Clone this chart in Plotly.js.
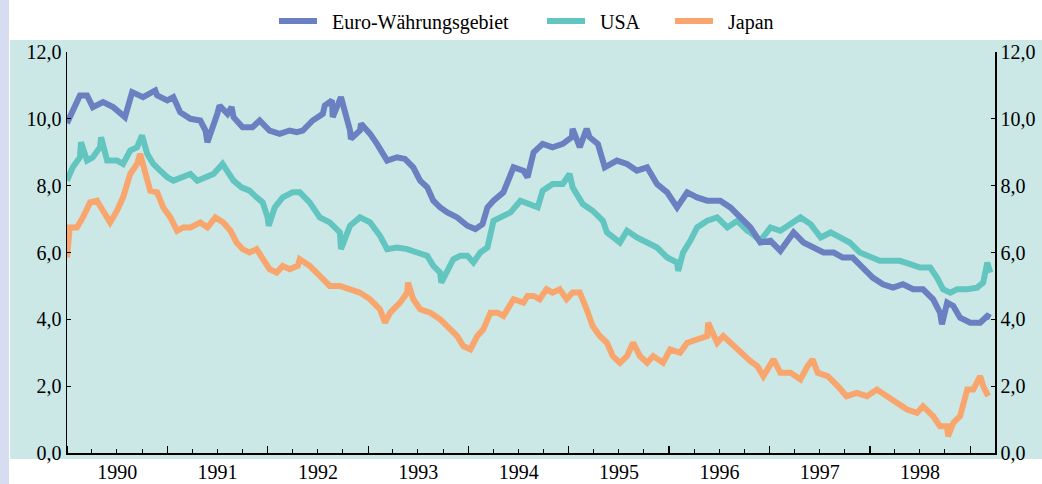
<!DOCTYPE html>
<html>
<head>
<meta charset="utf-8">
<script src="https://cdn.plot.ly/plotly-3.0.1.min.js"></script>
<style>
html,body{margin:0;padding:0;background:#fff;}
#chart{width:1042px;height:484px;}
</style>
</head>
<body>
<div id="chart"></div>
<script>
// Decimal-year positions and values (percent)
const euroYears = [1990.00,1990.06,1990.13,1990.20,1990.26,1990.36,1990.46,1990.58,1990.65,1990.76,1990.88,1990.90,1991.00,1991.06,1991.13,1991.23,1991.33,1991.38,1991.40,1991.50,1991.52,1991.60,1991.64,1991.66,1991.75,1991.85,1991.92,1992.02,1992.12,1992.22,1992.29,1992.35,1992.45,1992.55,1992.57,1992.64,1992.65,1992.73,1992.75,1992.82,1992.83,1992.92,1992.93,1993.02,1993.09,1993.19,1993.29,1993.37,1993.45,1993.52,1993.59,1993.65,1993.72,1993.79,1993.89,1993.99,1994.07,1994.14,1994.19,1994.25,1994.35,1994.45,1994.55,1994.59,1994.65,1994.74,1994.84,1994.94,1995.03,1995.04,1995.11,1995.18,1995.21,1995.29,1995.36,1995.48,1995.58,1995.68,1995.78,1995.88,1995.98,1996.08,1996.18,1996.28,1996.38,1996.51,1996.61,1996.71,1996.81,1996.91,1997.01,1997.11,1997.24,1997.34,1997.44,1997.54,1997.64,1997.73,1997.83,1997.93,1998.03,1998.13,1998.23,1998.33,1998.43,1998.53,1998.63,1998.70,1998.72,1998.77,1998.83,1998.90,1999.00,1999.10,1999.17,1999.20];
const euroValues = [9.87,10.2,10.7,10.7,10.35,10.5,10.35,10.05,10.8,10.65,10.85,10.7,10.55,10.65,10.2,10.0,9.95,9.65,9.3,10.15,10.4,10.15,10.35,10.05,9.75,9.75,9.95,9.65,9.55,9.65,9.6,9.65,9.95,10.15,10.4,10.55,10.05,10.65,10.45,9.65,9.4,9.65,9.85,9.55,9.25,8.75,8.85,8.8,8.55,8.15,7.95,7.55,7.35,7.2,7.05,6.8,6.7,6.85,7.35,7.55,7.8,8.55,8.45,8.25,9.0,9.25,9.15,9.25,9.45,9.7,9.15,9.7,9.45,9.25,8.55,8.75,8.65,8.45,8.55,8.05,7.8,7.35,7.8,7.65,7.55,7.55,7.35,7.05,6.75,6.3,6.35,6.05,6.6,6.3,6.15,6.0,6.0,5.85,5.85,5.55,5.25,5.05,4.95,5.05,4.9,4.9,4.6,4.2,3.85,4.5,4.4,4.05,3.9,3.9,4.1,4.05];

const usaYears = [1990.00,1990.06,1990.13,1990.14,1990.20,1990.26,1990.33,1990.34,1990.40,1990.50,1990.56,1990.63,1990.70,1990.75,1990.80,1990.86,1990.93,1991.00,1991.06,1991.16,1991.23,1991.30,1991.40,1991.46,1991.55,1991.60,1991.66,1991.74,1991.82,1991.89,1991.95,1992.00,1992.01,1992.07,1992.15,1992.25,1992.32,1992.42,1992.52,1992.62,1992.72,1992.73,1992.82,1992.92,1993.02,1993.12,1993.19,1993.29,1993.39,1993.49,1993.59,1993.65,1993.72,1993.73,1993.79,1993.85,1993.92,1993.99,1994.05,1994.12,1994.19,1994.25,1994.32,1994.42,1994.52,1994.62,1994.69,1994.74,1994.84,1994.94,1995.01,1995.04,1995.14,1995.24,1995.34,1995.38,1995.44,1995.51,1995.58,1995.68,1995.78,1995.88,1995.98,1996.08,1996.09,1996.14,1996.21,1996.28,1996.38,1996.48,1996.58,1996.68,1996.78,1996.81,1996.91,1997.01,1997.11,1997.21,1997.31,1997.41,1997.51,1997.61,1997.71,1997.80,1997.90,1998.00,1998.10,1998.20,1998.30,1998.40,1998.50,1998.60,1998.67,1998.73,1998.80,1998.87,1998.97,1999.07,1999.13,1999.17,1999.20];
const usaValues = [8.15,8.55,8.85,9.3,8.75,8.85,9.15,9.45,8.75,8.75,8.65,9.05,9.15,9.5,8.95,8.65,8.45,8.25,8.15,8.25,8.35,8.15,8.25,8.35,8.65,8.45,8.15,7.95,7.85,7.65,7.5,7.05,6.8,7.35,7.65,7.8,7.8,7.5,7.05,6.9,6.6,6.1,6.8,7.05,6.9,6.5,6.1,6.15,6.1,6.0,5.9,5.6,5.4,5.1,5.5,5.8,5.9,5.9,5.7,6.0,6.15,6.95,7.05,7.2,7.55,7.45,7.35,7.85,8.05,8.05,8.35,7.95,7.45,7.25,6.95,6.6,6.45,6.3,6.65,6.45,6.3,6.15,5.85,5.7,5.45,6.0,6.35,6.75,6.95,7.05,6.75,6.95,6.65,6.6,6.35,6.75,6.65,6.85,7.05,6.85,6.45,6.6,6.45,6.3,6.0,5.85,5.75,5.75,5.75,5.65,5.55,5.55,5.25,4.9,4.8,4.9,4.9,4.95,5.1,5.7,5.4];

const japanYears = [1990.00,1990.03,1990.10,1990.16,1990.23,1990.30,1990.36,1990.43,1990.50,1990.56,1990.63,1990.70,1990.73,1990.78,1990.83,1990.90,1990.96,1991.03,1991.10,1991.16,1991.23,1991.33,1991.40,1991.48,1991.56,1991.63,1991.69,1991.75,1991.82,1991.89,1991.95,1992.02,1992.09,1992.15,1992.22,1992.30,1992.32,1992.42,1992.52,1992.62,1992.72,1992.82,1992.92,1993.02,1993.12,1993.17,1993.22,1993.32,1993.39,1993.40,1993.45,1993.52,1993.62,1993.72,1993.82,1993.89,1993.95,1994.02,1994.09,1994.15,1994.22,1994.29,1994.35,1994.45,1994.55,1994.59,1994.65,1994.71,1994.78,1994.84,1994.91,1994.98,1995.04,1995.11,1995.18,1995.24,1995.31,1995.38,1995.44,1995.51,1995.58,1995.64,1995.71,1995.78,1995.84,1995.94,1996.01,1996.11,1996.18,1996.28,1996.38,1996.39,1996.48,1996.54,1996.61,1996.71,1996.81,1996.88,1996.94,1997.04,1997.11,1997.21,1997.31,1997.38,1997.43,1997.48,1997.58,1997.68,1997.77,1997.87,1997.97,1998.07,1998.17,1998.27,1998.37,1998.47,1998.53,1998.63,1998.70,1998.77,1998.78,1998.83,1998.90,1998.97,1999.03,1999.10,1999.13,1999.18];
const japanValues = [5.85,6.75,6.75,7.05,7.5,7.55,7.25,6.9,7.25,7.65,8.35,8.65,8.95,8.35,7.85,7.8,7.35,7.05,6.65,6.75,6.75,6.9,6.75,7.05,6.9,6.65,6.3,6.1,6.0,6.1,5.8,5.5,5.4,5.6,5.5,5.6,5.8,5.6,5.3,5.0,5.0,4.9,4.8,4.6,4.3,3.9,4.2,4.5,4.8,5.1,4.6,4.3,4.2,4.0,3.7,3.5,3.2,3.1,3.5,3.7,4.2,4.2,4.1,4.6,4.5,4.7,4.7,4.6,4.9,4.8,4.9,4.6,4.8,4.8,4.3,3.8,3.5,3.3,2.9,2.7,2.9,3.3,2.9,2.7,2.9,2.7,3.1,3.0,3.3,3.4,3.5,3.9,3.3,3.5,3.3,3.0,2.75,2.6,2.3,2.8,2.4,2.4,2.2,2.6,2.8,2.4,2.3,2.0,1.7,1.8,1.7,1.9,1.7,1.5,1.3,1.2,1.4,1.1,0.8,0.8,0.5,0.9,1.1,1.9,1.9,2.3,2.0,1.7];

const seriesNames = ['Euro-Währungsgebiet', 'USA', 'Japan'];
const yTickValues = [0, 2, 4, 6, 8, 10, 12];

function toDate(y) {
  const ms = Date.UTC(1990, 0, 1) + (y - 1990) * 365.25 * 86400000;
  return new Date(ms).toISOString().slice(0, 10);
}

const FONT = 'Liberation Serif';
const colors = { euro: '#6b80c0', usa: '#63c5bf', japan: '#f8a66e' };
const GAP = '\u00a0\u00a0';

const data = [
  { x: usaYears.map(toDate), y: usaValues, name: GAP + seriesNames[1], type: 'scatter', mode: 'lines',
    line: { color: colors.usa, width: 6 }, legend: 'legend2', yaxis: 'y' },
  { x: japanYears.map(toDate), y: japanValues, name: GAP + seriesNames[2], type: 'scatter', mode: 'lines',
    line: { color: colors.japan, width: 6 }, legend: 'legend3', yaxis: 'y' },
  { x: euroYears.map(toDate), y: euroValues, name: GAP + seriesNames[0], type: 'scatter', mode: 'lines',
    line: { color: colors.euro, width: 6 }, legend: 'legend', yaxis: 'y2' }
];

const yCommon = {
  range: [0, 12], fixedrange: true, tickvals: yTickValues, tickformat: '.1f',
  ticks: 'inside', ticklen: 4, tickwidth: 1.2, tickcolor: '#000',
  showline: true, linecolor: '#000', linewidth: 1.5,
  showgrid: false, zeroline: false,
  tickfont: { family: FONT, size: 20, color: '#000' }
};

function legendAt(px) {
  return {
    orientation: 'h', x: (px - 67) / 928, xanchor: 'left',
    yref: 'container', y: 1 - 21 / 484, yanchor: 'middle',
    font: { family: FONT, size: 20, color: '#000' }, bgcolor: 'rgba(0,0,0,0)',
    borderwidth: 0, itemwidth: 38
  };
}

const layout = {
  width: 1042, height: 484,
  margin: { l: 67, r: 47, t: 52, b: 31, pad: 0, autoexpand: false },
  paper_bgcolor: '#ffffff',
  plot_bgcolor: 'rgba(0,0,0,0)',
  separators: ',.',
  showlegend: true,
  legend: legendAt(274),
  legend2: legendAt(542),
  legend3: legendAt(670),
  xaxis: {
    type: 'date', range: ['1990-01-01', '1999-04-01'], fixedrange: true,
    tick0: '1990-01-01', dtick: 'M12', tickformat: '%Y', ticklabelmode: 'period',
    ticks: 'inside', ticklen: 7, tickwidth: 1.2, tickcolor: '#000',
    minor: { dtick: 'M3', ticks: 'inside', ticklen: 4, tickwidth: 1, tickcolor: '#000', showgrid: false },
    showline: true, linecolor: '#000', linewidth: 1.5,
    showgrid: false, zeroline: false,
    tickfont: { family: FONT, size: 20, color: '#000' }
  },
  yaxis: Object.assign({ side: 'left' }, yCommon),
  yaxis2: Object.assign({ side: 'right', overlaying: 'y', anchor: 'x' }, yCommon),
  shapes: [
    { type: 'rect', xref: 'paper', yref: 'paper', x0: -0.0614, x1: 1.06, y0: -0.015, y1: 1.03,
      fillcolor: '#cbe8e7', line: { width: 0 }, layer: 'below' },
    { type: 'rect', xref: 'paper', yref: 'paper', x0: -0.0722, x1: -0.0625, y0: -0.08, y1: 1.13,
      fillcolor: '#d7ddf0', line: { width: 0 }, layer: 'below' }
  ]
};

Plotly.newPlot('chart', data, layout, { displayModeBar: false, staticPlot: true });
</script>
</body>
</html>
